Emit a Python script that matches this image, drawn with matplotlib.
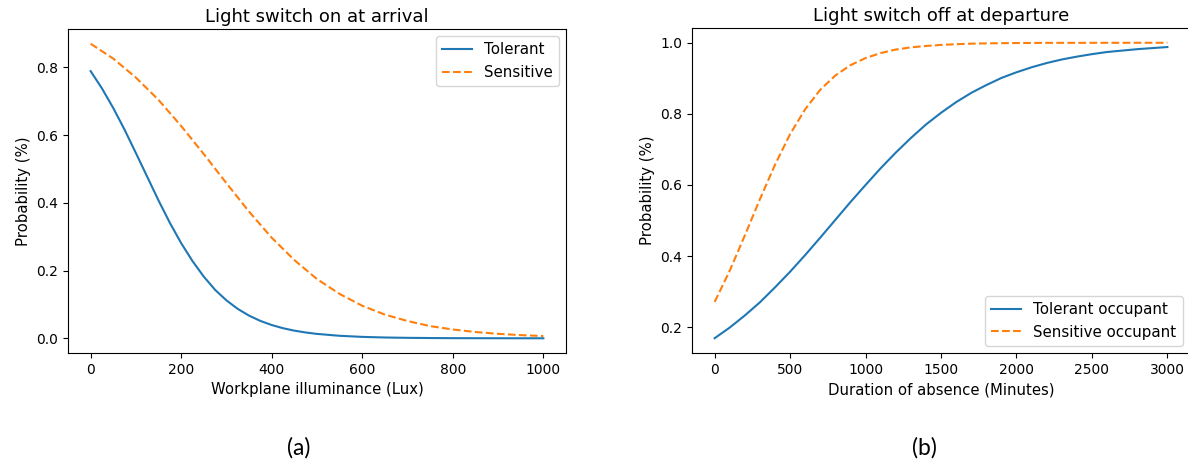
import matplotlib
matplotlib.use("Agg")
import matplotlib.pyplot as plt

# ---- Panel (a): light switch on at arrival ----
lux_tol = [0, 25, 50, 75, 100, 125, 150, 175, 200, 225, 250, 275, 300, 325, 350,
           375, 400, 425, 450, 475, 500, 550, 600, 650, 700, 750, 800, 850, 900, 950, 1000]
p_on_tolerant = [0.789, 0.738, 0.680, 0.616, 0.547, 0.477, 0.407, 0.341, 0.281, 0.228,
                 0.182, 0.143, 0.112, 0.0868, 0.0669, 0.0513, 0.0392, 0.0298, 0.0226,
                 0.0172, 0.0130, 0.0074, 0.0042, 0.0024, 0.0014, 0.0008, 0.0004,
                 0.0003, 0.0002, 0.0001, 0.0001]
lux_sen = [0, 50, 100, 150, 200, 250, 300, 350, 400, 450, 500, 550, 600, 650, 700,
           750, 800, 850, 900, 950, 1000]
p_on_sensitive = [0.870, 0.826, 0.770, 0.704, 0.627, 0.544, 0.458, 0.374, 0.297, 0.231,
                  0.175, 0.131, 0.096, 0.070, 0.051, 0.036, 0.026, 0.0186, 0.0133,
                  0.0094, 0.0067]

# ---- Panel (b): light switch off at departure ----
minutes = [0, 100, 200, 300, 400, 500, 600, 700, 800, 900, 1000, 1100, 1200, 1300,
           1400, 1500, 1600, 1700, 1800, 1900, 2000, 2100, 2200, 2300, 2400, 2500,
           2600, 2700, 2800, 2900, 3000]
p_off_tolerant = [0.169, 0.199, 0.233, 0.270, 0.312, 0.356, 0.403, 0.452, 0.502, 0.552,
                  0.600, 0.647, 0.691, 0.732, 0.770, 0.803, 0.833, 0.859, 0.881, 0.901,
                  0.917, 0.931, 0.943, 0.953, 0.961, 0.968, 0.974, 0.978, 0.982, 0.985,
                  0.988]
p_off_sensitive = [0.271, 0.359, 0.458, 0.560, 0.657, 0.743, 0.813, 0.868, 0.908, 0.937,
                   0.957, 0.971, 0.981, 0.987, 0.991, 0.994, 0.996, 0.9975, 0.9983,
                   0.9989, 0.9993, 0.9995, 0.9997, 0.9998, 0.9998, 0.9999, 0.9999,
                   0.9999, 1.0, 1.0, 1.0]

W, H = 1188, 465
fig = plt.figure(figsize=(W / 100, H / 100), dpi=100)

def px_axes(left, top, right, bottom):
    return fig.add_axes([left / W, 1 - bottom / H, (right - left) / W, (bottom - top) / H])

TITLE_FS = 13
LABEL_FS = 10.7
LEGEND_FS = 10.8

ax1 = px_axes(68, 29, 566, 353)
ax1.plot(lux_tol, p_on_tolerant, color="#1f77b4", lw=1.5, label="Tolerant")
ax1.plot(lux_sen, p_on_sensitive, color="#ff7f0e", lw=1.5, ls="--", label="Sensitive")
ax1.set_title("Light switch on at arrival", fontsize=TITLE_FS, pad=5)
ax1.set_xlabel("Workplane illuminance (Lux)", fontsize=LABEL_FS)
ax1.set_ylabel("Probability (%)", fontsize=LABEL_FS)
ax1.set_xticks([0, 200, 400, 600, 800, 1000])
ax1.set_yticks([0.0, 0.2, 0.4, 0.6, 0.8])
ax1.legend(loc="upper right", fontsize=LEGEND_FS)

ax2 = px_axes(692, 28, 1190, 353)
ax2.plot(minutes, p_off_tolerant, color="#1f77b4", lw=1.5, label="Tolerant occupant")
ax2.plot(minutes, p_off_sensitive, color="#ff7f0e", lw=1.5, ls="--", label="Sensitive occupant")
ax2.set_xlim(-150, 3150)
ax2.set_title("Light switch off at departure", fontsize=TITLE_FS, pad=5)
ax2.set_xlabel("Duration of absence (Minutes)", fontsize=LABEL_FS)
ax2.set_ylabel("Probability (%)", fontsize=LABEL_FS)
ax2.set_xticks([0, 500, 1000, 1500, 2000, 2500, 3000])
ax2.set_yticks([0.2, 0.4, 0.6, 0.8, 1.0])
ax2.legend(loc="lower right", fontsize=LEGEND_FS)

for ax in (ax1, ax2):
    ax.tick_params(labelsize=10)

fig.text(299 / W, 1 - 448 / H, "(a)", fontsize=16.5, family="Lato", ha="center", va="center")
fig.text(924 / W, 1 - 448 / H, "(b)", fontsize=16.5, family="Lato", ha="center", va="center")

fig.savefig("out.png", dpi=100)
